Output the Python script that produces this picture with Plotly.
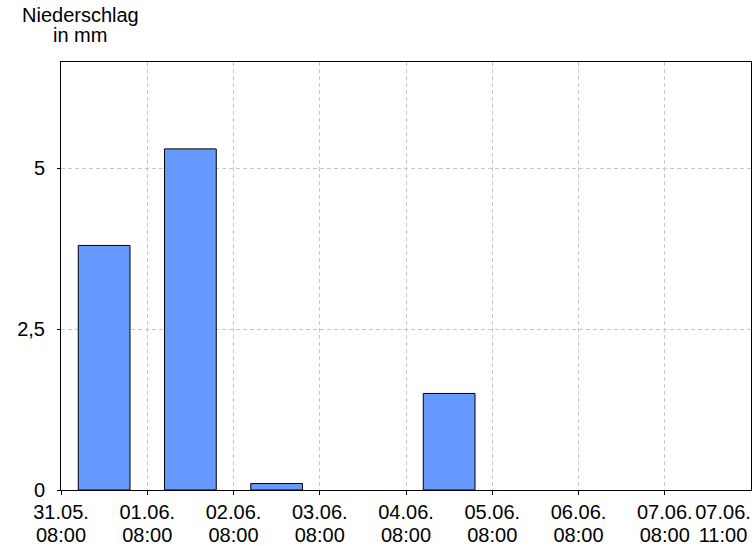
import plotly.graph_objects as go

# Data
bar_positions = [0.5, 1.5, 2.5, 3.5, 4.5, 5.5, 6.5]
precip_mm = [3.8, 5.3, 0.1, 0.0, 1.5, 0.0, 0.0]
tick_positions = [0, 1, 2, 3, 4, 5, 6, 7]
tick_dates = ["31.05.", "01.06.", "02.06.", "03.06.", "04.06.", "05.06.", "06.06.", "07.06."]
tick_times = ["08:00", "08:00", "08:00", "08:00", "08:00", "08:00", "08:00", "08:00"]
end_position = 8
end_date = "07.06."
end_time = "11:00"
y_ticks = [0, 2.5, 5]

font_family = "Liberation Sans, Arial, sans-serif"
FS = 20

# only draw bars with precipitation (zero bars have no visible mark in the reference)
xs = [x for x, v in zip(bar_positions, precip_mm) if v > 0]
vs = [v for v in precip_mm if v > 0]

fig = go.Figure()
fig.add_trace(go.Bar(
    x=xs,
    y=vs,
    width=0.6,
    marker=dict(color="#6699ff", line=dict(color="black", width=1)),
    hoverinfo="y",
))

common_overlay = dict(
    overlaying="x", anchor="y", side="bottom", range=[0, 8],
    tickmode="array", showgrid=False, showline=False, zeroline=False,
    ticks="outside", ticklen=4, tickcolor="rgba(0,0,0,0)",
    automargin=False, fixedrange=True, tickangle=0,
    ticklabeloverflow="allow",
    tickfont=dict(family=font_family, size=FS, color="black"),
)

fig.update_layout(
    width=756,
    height=546,
    autosize=False,
    margin=dict(l=61, r=5, t=62, b=56),
    paper_bgcolor="white",
    plot_bgcolor="white",
    separators=",.",
    showlegend=False,
    font=dict(family=font_family, size=FS, color="black"),
    xaxis=dict(
        range=[0, 8],
        tickmode="array",
        tickvals=tick_positions,
        ticktext=tick_dates,
        showgrid=True,
        gridcolor="#c8c8c8",
        griddash="4px,3px",
        gridwidth=1,
        showline=True,
        linecolor="black",
        linewidth=1,
        mirror=True,
        ticks="outside",
        ticklen=4,
        tickcolor="black",
        tickangle=0,
        zeroline=False,
        automargin=False,
        fixedrange=True,
        ticklabelstandoff=0,
    ),
    xaxis2=dict(common_overlay, tickvals=tick_positions, ticktext=tick_times,
                ticklabelstandoff=23),
    xaxis3=dict(common_overlay, tickvals=[end_position], ticktext=[end_date],
                ticklabelshift=-28, ticklabelstandoff=0),
    xaxis4=dict(common_overlay, tickvals=[end_position], ticktext=[end_time],
                ticklabelshift=-28, ticklabelstandoff=23),
    yaxis=dict(
        range=[0, 6.65],
        tickmode="array",
        tickvals=y_ticks,
        showgrid=True,
        gridcolor="#c8c8c8",
        griddash="4px,3px",
        gridwidth=1,
        showline=True,
        linecolor="black",
        linewidth=1,
        mirror=True,
        ticks="outside",
        ticklen=3,
        tickcolor="black",
        zeroline=False,
        automargin=False,
        fixedrange=True,
        ticklabelstandoff=8,
    ),
    annotations=[
        dict(text="Niederschlag", xref="paper", yref="paper", x=0.028, y=1.0,
             xanchor="center", yanchor="bottom", yshift=33, height=24,
             valign="middle", showarrow=False, font=dict(size=FS)),
        dict(text="in mm", xref="paper", yref="paper", x=0.028, y=1.0,
             xanchor="center", yanchor="bottom", yshift=17, height=16,
             valign="middle", showarrow=False, font=dict(size=FS)),
    ],
)

# invisible placeholder traces so the overlay axes render
for ax in ["x2", "x3", "x4"]:
    fig.add_trace(go.Scatter(x=[None], y=[None], xaxis=ax, yaxis="y",
                             showlegend=False, hoverinfo="skip"))

fig.write_html(
    "out.html",
    config={"displayModeBar": False},
    post_script="document.body.style.margin='0';document.body.style.overflow='hidden';",
)
